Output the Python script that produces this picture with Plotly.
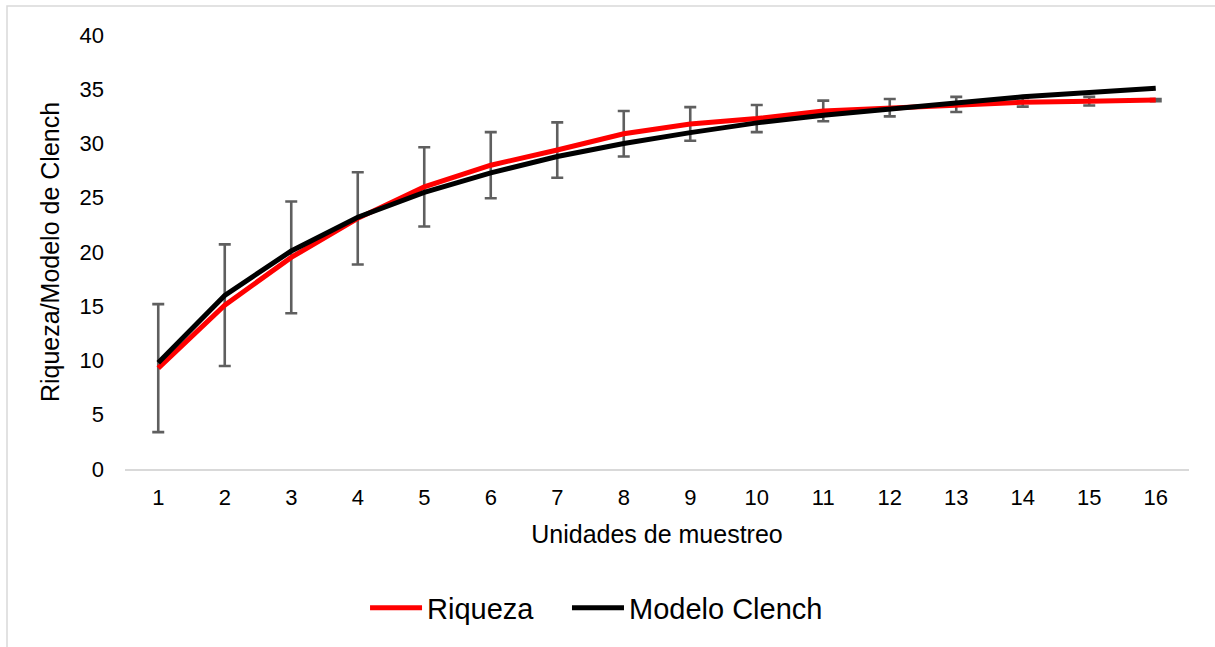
import plotly.graph_objects as go

unidades = [str(i) for i in range(1, 17)]
riqueza = [9.3, 15.1, 19.5, 23.1, 26.0, 28.0, 29.4, 30.9, 31.8, 32.3, 33.0, 33.3, 33.6, 33.8, 33.9, 34.0]
clench = [9.8, 16.0, 20.1, 23.2, 25.5, 27.3, 28.8, 30.0, 31.0, 31.9, 32.6, 33.2, 33.8, 34.3, 34.7, 35.1]
error_half = [5.9, 5.6, 5.15, 4.25, 3.65, 3.05, 2.55, 2.1, 1.55, 1.25, 0.95, 0.8, 0.7, 0.4, 0.4, 0.1]
y_ticks = [0, 5, 10, 15, 20, 25, 30, 35, 40]

FONT = "Liberation Sans, Arial, sans-serif"

fig = go.Figure()

# error bars (drawn beneath lines)
fig.add_trace(go.Scatter(
    x=unidades, y=riqueza, mode="markers",
    marker=dict(color="rgba(0,0,0,0)", size=1),
    error_y=dict(type="data", array=error_half, visible=True,
                 color="#5f5f5f", thickness=2.6, width=6),
    showlegend=False, hoverinfo="skip",
))

fig.add_trace(go.Scatter(
    x=unidades, y=riqueza, mode="lines", name="Riqueza",
    line=dict(color="#ff0000", width=5), legend="legend",
))
fig.add_trace(go.Scatter(
    x=unidades, y=clench, mode="lines", name="Modelo Clench",
    line=dict(color="#000000", width=5), legend="legend2",
))

leg_common = dict(orientation="h", yanchor="middle", y=-0.32, xanchor="left",
                  font=dict(size=29, color="#000000"), itemwidth=52,
                  bgcolor="rgba(0,0,0,0)")

fig.update_layout(
    width=1215, height=647,
    margin=dict(l=125, r=26, t=35, b=178),
    paper_bgcolor="white", plot_bgcolor="white",
    font=dict(family=FONT, color="#000000", size=22),
    showlegend=True,
    legend=dict(x=0.2256, **leg_common),
    legend2=dict(x=0.4154, **leg_common),
    shapes=[dict(type="rect", xref="paper", yref="paper",
                 x0=-0.1109, x1=1.03, y0=-0.43, y1=1.0668,
                 line=dict(color="#d9d9d9", width=1.5), fillcolor="rgba(0,0,0,0)",
                 layer="below")],
)

fig.update_xaxes(
    type="category", range=[-0.5, 15.5],
    showline=True, linecolor="#d9d9d9", linewidth=1.5,
    showgrid=False, zeroline=False, ticks="",
    tickfont=dict(size=22), ticklabelstandoff=8,
    title=dict(text="Unidades de muestreo", font=dict(size=25), standoff=16),
)
fig.update_yaxes(
    range=[0, 40], tickvals=y_ticks,
    showline=False, showgrid=False, zeroline=False, ticks="",
    tickfont=dict(size=22), ticklabelstandoff=20,
    title=dict(text="Riqueza/Modelo de Clench", font=dict(size=25), standoff=12),
)

fig.write_html("out.html")
